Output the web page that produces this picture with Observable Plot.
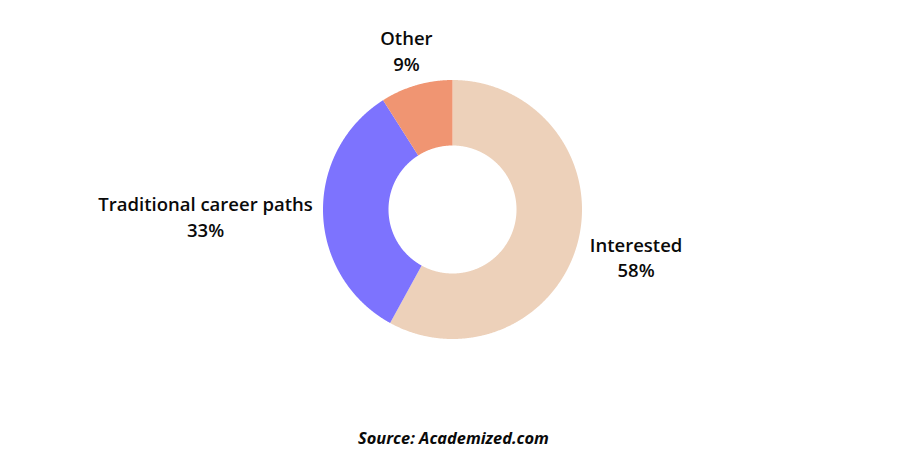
<!DOCTYPE html>
<html><head><meta charset="utf-8">
<script src="https://cdn.jsdelivr.net/npm/d3@7"></script>
<script src="https://cdn.jsdelivr.net/npm/@observablehq/plot@0.6"></script>
<style>body{margin:0;background:#fff;overflow:hidden}</style>
</head><body><div id="chart"></div>
<script>
// ---- data ----
const categories = ["Interested", "Traditional career paths", "Other"];
const shares = [58, 33, 9];
const percentLabels = ["58%", "33%", "9%"];
const colors = ["#EDD1BA", "#7D73FE", "#F09572"];
const sourceText = "Source: Academized.com";

// ---- layout (code, not data) ----
const W = 905, H = 457, cx = 452, cy = 209, R = 129.5, rInner = 64;
const labelNudge = { // px nudges from the point at 140px along mid-angle
  "Interested": [48, 12],
  "Traditional career paths": [-107, 2],
  "Other": [-7, -25]
};

const arcs = d3.pie().sort(null).value(d => d)(shares);
const pts = [];
const k0 = rInner / R;
arcs.forEach((a, i) => {
  const n = Math.max(4, Math.ceil((a.endAngle - a.startAngle) / 0.005));
  for (let k = 0; k <= n; k++) {
    const t = a.startAngle + (a.endAngle - a.startAngle) * k / n;
    pts.push({cat: categories[i], x: Math.sin(t), y: Math.cos(t)});
  }
  for (let k = n; k >= 0; k--) {
    const t = a.startAngle + (a.endAngle - a.startAngle) * k / n;
    pts.push({cat: categories[i], x: k0 * Math.sin(t), y: k0 * Math.cos(t)});
  }
});

const labels = arcs.map((a, i) => {
  const m = (a.startAngle + a.endAngle) / 2;
  const nd = labelNudge[categories[i]];
  return {
    x: (140 * Math.sin(m) + nd[0]) / R,
    y: (140 * Math.cos(m) - nd[1]) / R,
    text: categories[i] + "\n" + percentLabels[i]
  };
});

const plot = Plot.plot({
  width: W, height: H,
  margin: 0,
  style: {fontFamily: "'Open Sans', 'Noto Sans', sans-serif", background: "#fff", overflow: "visible"},
  x: {domain: [-cx / R, (W - cx) / R], range: [0, W], axis: null},
  y: {domain: [-(H - cy) / R, cy / R], range: [H, 0], axis: null},
  color: {domain: categories, range: colors},
  marks: [
    Plot.line(pts, {x: "x", y: "y", z: "cat", fill: "cat", stroke: "none", curve: "linear"}),
    Plot.text(labels, {x: "x", y: "y", text: "text", fontSize: 18.5, fontWeight: 600, lineHeight: 1.38, fill: "#0a0a0a", textAnchor: "middle"}),
    Plot.text([sourceText], {x: () => (453 - cx) / R, y: () => (cy - 438) / R, text: d => d, fontSize: 16.4, fontWeight: 700, fontStyle: "italic", fill: "#0a0a0a", textAnchor: "middle"})
  ]
});
document.getElementById("chart").append(plot);
</script>
</body></html>
